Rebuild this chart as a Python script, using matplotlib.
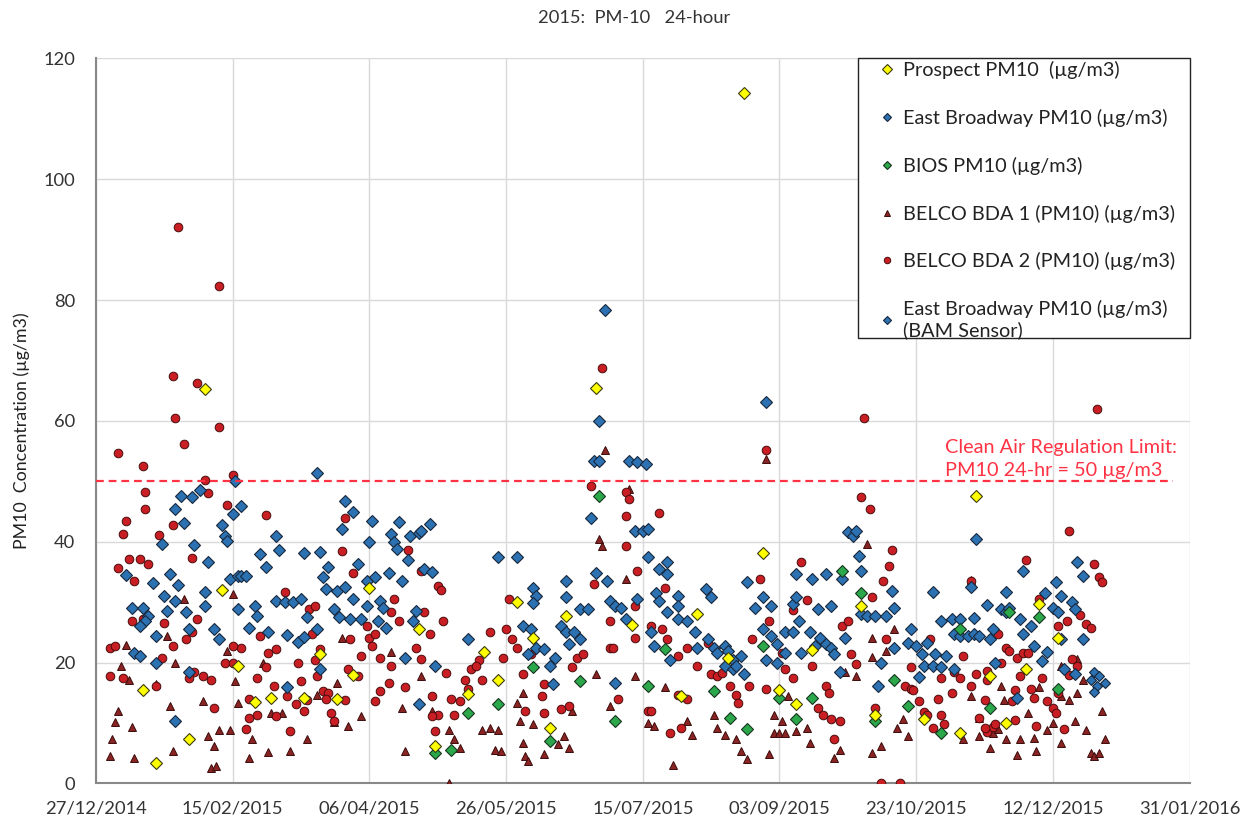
import numpy as np
import matplotlib
matplotlib.use("Agg")
import matplotlib.pyplot as plt
import matplotlib.dates as mdates
from matplotlib.patches import Rectangle

plt.rcParams['font.family'] = ['Lato', 'DejaVu Sans']

# ---------------- data (day of 2015, value in ug/m3) ----------------
title = "2015:  PM-10   24-hour"
ylabel = "PM10  Concentration (\u00b5g/m3)"
limit_value = 50
limit_text = "Clean Air Regulation Limit:\nPM10 24-hr = 50 \u00b5g/m3"
series_names = ["Prospect PM10  (\u00b5g/m3)",
                "East Broadway PM10 (\u00b5g/m3)",
                "BIOS PM10 (\u00b5g/m3)",
                "BELCO BDA 1 (PM10) (\u00b5g/m3)",
                "BELCO BDA 2 (PM10) (\u00b5g/m3)",
                "East Broadway PM10 (\u00b5g/m3)\n(BAM Sensor)"]
yticks = [0, 20, 40, 60, 80, 100, 120]

prospect = [(12, 15.4), (17, 3.4), (29, 7.4), (35, 65.2), (41, 32.0), (47, 19.5), (53, 13.5),
            (59, 14.2), (71, 14.2), (77, 21.4), (83, 13.9), (89, 17.9), (95, 32.3), (113, 25.5),
            (119, 6.2), (131, 14.8), (137, 21.7), (142, 17.2), (149, 30.0), (155, 24.1),
            (161, 9.2), (167, 27.7), (178, 65.5), (191, 26.2), (209, 14.5), (215, 28.0),
            (226, 20.8), (232, 114.2), (239, 38.1), (245, 15.4), (251, 13.2), (257, 22.1),
            (275, 29.4), (280, 11.4), (298, 10.6), (311, 8.4), (317, 47.5), (322, 17.8),
            (328, 10.0), (335, 18.9), (340, 29.7), (347, 24.1)]

bios = [(119, 5.1), (125, 5.6), (131, 11.7), (142, 13.1), (155, 19.2), (161, 7.0), (172, 17.0),
        (179, 47.6), (185, 10.3), (197, 16.1), (203, 22.2), (221, 15.3), (227, 10.9), (233, 9.0),
        (239, 22.8), (245, 14.2), (251, 10.6), (257, 14.2), (268, 35.2), (275, 31.6), (280, 10.3),
        (287, 17.2), (292, 12.8), (304, 8.4), (311, 25.5), (322, 12.5), (329, 28.3), (340, 27.5),
        (347, 15.6)]

east_broadway = [
    (6, 34.5), (16, 33.1), (22, 34.6), (25, 32.8), (8, 29.1), (12, 29.1), (14, 27.7), (13, 26.9),
    (11, 26.1), (9, 21.6), (11, 21.1), (17, 20.0), (17, 24.4), (19, 39.6), (24, 45.4), (26, 47.6),
    (30, 47.4), (33, 48.6), (27, 43.1), (31, 39.5), (36, 36.6), (20, 31.1), (24, 30.2), (21, 28.6),
    (28, 28.4), (29, 25.5), (35, 31.7), (35, 29.4), (38, 25.5), (40, 23.9), (29, 18.4), (24, 10.3),
    (41, 42.7), (42, 41.0), (43, 40.2), (45, 44.6), (48, 45.9), (46, 50.1), (44, 33.8), (47, 34.4),
    (48, 34.4), (50, 34.4), (47, 28.8), (51, 25.8), (53, 29.4), (54, 27.7), (55, 38.0), (57, 35.8),
    (61, 40.9), (62, 38.7), (58, 25.0), (61, 30.2), (64, 30.0), (67, 30.0), (70, 30.5), (65, 24.5),
    (69, 23.4), (71, 24.3), (71, 38.1), (77, 38.3), (80, 35.8), (78, 34.1), (79, 32.2), (83, 31.9),
    (86, 32.5), (72, 27.5), (76, 25.6), (82, 28.8), (84, 27.5), (88, 27.2), (92, 27.2), (89, 30.5),
    (86, 46.8), (89, 44.9), (85, 42.1), (91, 36.4), (94, 33.5), (95, 39.9), (96, 43.5), (76, 51.4),
    (94, 29.4), (65, 16.0), (77, 18.9),
    (106, 43.2), (103, 41.3), (104, 39.9), (105, 38.8), (109, 37.0), (110, 41.0), (113, 41.5),
    (114, 41.8), (117, 43.0), (115, 35.5), (118, 35.0), (97, 34.1), (102, 34.9), (107, 33.5),
    (99, 30.2), (100, 29.1), (98, 26.9), (101, 25.8), (111, 26.9), (112, 28.6), (108, 20.8),
    (119, 19.5), (113, 13.1), (131, 23.9), (142, 37.5), (149, 37.5), (155, 32.4), (156, 31.0),
    (155, 29.8), (151, 26.1), (154, 25.6), (156, 22.5), (159, 22.2), (163, 20.8), (153, 21.4),
    (161, 19.5), (162, 16.4), (167, 33.5), (167, 30.8), (165, 26.1), (167, 25.0), (170, 25.0),
    (172, 23.9), (168, 23.1), (172, 28.8), (175, 28.8), (176, 44.0), (177, 53.4), (179, 53.4),
    (179, 59.9), (181, 78.3), (178, 34.9), (182, 33.5), (183, 30.2), (185, 29.4), (187, 29.1),
    (192, 41.8), (195, 41.8), (190, 53.4), (193, 53.2), (189, 27.2), (193, 30.5), (185, 16.7),
    (240, 63.2), (196, 52.8), (197, 42.1), (197, 37.4), (201, 35.5), (204, 36.6), (204, 34.6),
    (200, 31.6), (201, 30.2), (204, 28.3), (208, 31.0), (208, 29.4), (208, 27.2), (211, 26.9),
    (214, 25.0), (218, 32.2), (220, 30.8), (198, 25.0), (199, 22.8), (205, 20.5), (215, 22.5),
    (219, 23.9), (221, 22.5), (222, 21.6), (225, 22.8), (226, 22.0), (228, 20.5), (231, 21.1),
    (225, 19.5), (228, 18.9), (229, 19.5), (232, 18.1), (233, 33.3), (236, 29.0), (239, 30.8),
    (242, 29.4), (239, 25.5), (242, 24.4), (244, 23.0), (240, 20.5), (244, 20.0), (247, 25.0),
    (250, 25.0), (252, 26.9), (250, 29.7), (251, 30.8), (251, 34.6), (257, 33.8), (262, 34.6),
    (247, 21.6), (253, 21.6), (256, 25.0), (258, 22.8), (260, 24.1), (262, 23.0), (264, 22.5),
    (265, 21.4), (259, 28.8), (264, 29.4), (267, 18.4), (268, 33.8), (269, 24.1), (270, 41.6),
    (272, 41.0), (273, 41.8), (274, 37.7), (275, 35.2), (275, 28.0), (277, 27.7), (280, 27.7),
    (284, 27.7), (287, 29.1), (286, 31.9), (293, 25.5), (292, 23.3), (295, 22.8), (297, 21.4),
    (287, 22.5), (282, 20.0), (281, 16.1), (296, 17.7),
    (317, 40.4), (334, 35.2), (354, 36.6), (356, 34.4), (315, 32.5), (301, 31.7), (328, 31.7),
    (321, 29.6), (326, 28.8), (328, 28.3), (329, 29.1), (333, 27.2), (337, 26.1), (342, 31.6),
    (346, 33.3), (348, 31.1), (345, 29.1), (347, 28.3), (352, 30.0), (353, 28.8), (304, 26.9),
    (308, 27.2), (311, 27.2), (316, 27.4), (309, 24.7), (311, 24.4), (314, 24.4), (316, 24.7),
    (318, 24.4), (322, 23.9), (323, 25.5), (334, 24.7), (338, 22.8), (343, 21.7), (348, 23.9),
    (356, 23.9), (299, 23.3), (302, 21.4), (306, 21.1), (298, 19.5), (301, 19.5), (304, 19.2),
    (309, 18.9), (324, 20.0), (341, 20.3), (349, 18.9), (353, 18.1), (332, 14.1)]

east_broadway_bam = [(360, 18.4), (362, 17.8), (364, 16.7), (359, 17.2), (361, 16.1), (360, 15.2)]

belco_bda2 = [
    (25, 92.0), (40, 82.4), (23, 67.5), (32, 66.2), (180, 68.8),
    (24, 60.5), (40, 59.0), (27, 56.1), (3, 54.7), (12, 52.5), (35, 50.2), (45, 51.0), (36, 48.0),
    (13, 48.3), (13, 45.5), (43, 46.0), (57, 44.4), (6, 43.4), (5, 41.3), (18, 41.2), (23, 42.7),
    (30, 37.3), (86, 43.9), (85, 38.4), (7, 37.1), (11, 37.1), (14, 36.3), (3, 35.6), (9, 33.5),
    (64, 31.7), (89, 34.9), (8, 26.9), (20, 26.6), (32, 27.2), (0, 22.5), (2, 22.8), (19, 20.8),
    (23, 22.8), (28, 23.9), (30, 25.0), (0, 17.8), (5, 17.5), (17, 16.1), (34, 17.8), (37, 17.2),
    (38, 12.5), (42, 20.0), (45, 20.0), (48, 22.5), (45, 22.8), (55, 24.4), (58, 21.6), (61, 22.2),
    (57, 19.2), (54, 17.5), (51, 13.9), (51, 10.9), (50, 9.0), (54, 11.4), (60, 16.1), (61, 11.2),
    (68, 13.1), (69, 20.0), (70, 17.0), (73, 28.8), (75, 29.4), (75, 20.5), (76, 17.8), (78, 15.3),
    (80, 15.0), (81, 11.7), (82, 10.3), (79, 13.9), (87, 18.9), (91, 17.8), (92, 21.1), (88, 23.9),
    (95, 24.1), (94, 26.1), (66, 8.7), (71, 12.0), (31, 18.5),
    (12, 27.2), (29, 17.4), (65, 14.4), (72, 13.8), (77, 22.2), (74, 24.7), (86, 13.8),
    (109, 38.6), (114, 35.2), (120, 32.6), (121, 32.0), (104, 30.5), (103, 28.3), (106, 26.9),
    (115, 28.3), (122, 26.9), (117, 24.7), (112, 22.5), (114, 20.6), (97, 24.7), (96, 22.8),
    (103, 19.5), (99, 20.8), (102, 16.7), (99, 15.3), (97, 13.6), (108, 15.9), (118, 14.5),
    (123, 18.3), (119, 8.7), (120, 11.4), (132, 18.9), (130, 17.2), (131, 15.6), (136, 17.2),
    (125, 13.9), (128, 13.6), (135, 20.5), (134, 19.5), (139, 25.0), (145, 25.5), (146, 30.5),
    (147, 23.9), (144, 20.8), (149, 22.5), (151, 18.1), (154, 21.4), (152, 12.0), (158, 14.5),
    (159, 11.7), (159, 16.4), (165, 12.3), (168, 12.8), (169, 19.2), (171, 20.8), (173, 21.4),
    (176, 49.3), (179, 53.4), (177, 33.0), (183, 26.9), (183, 22.5), (184, 22.5), (189, 44.3),
    (189, 39.3), (193, 35.2), (189, 48.2), (190, 47.1), (192, 29.4), (192, 24.1), (186, 13.9),
    (197, 12.0), (126, 11.4), (118, 11.2),
    (276, 60.4), (240, 55.1), (201, 44.8), (275, 47.4), (278, 45.4), (286, 38.7), (285, 36.0),
    (283, 33.5), (253, 36.7), (238, 33.8), (255, 30.4), (250, 28.7), (203, 32.4), (198, 26.1),
    (202, 25.5), (204, 23.9), (211, 22.5), (208, 21.1), (215, 19.5), (219, 23.3), (220, 18.1),
    (222, 17.8), (224, 18.3), (227, 16.1), (229, 14.7), (230, 13.4), (208, 14.7), (211, 13.9),
    (205, 8.4), (209, 9.2), (198, 12.0), (234, 16.2), (240, 15.6), (235, 23.9), (241, 26.9),
    (246, 21.6), (247, 18.9), (257, 19.5), (262, 16.1), (263, 15.0), (259, 12.5), (261, 11.4),
    (264, 10.6), (267, 10.3), (265, 7.3), (268, 26.1), (270, 26.9), (271, 21.4), (273, 19.7),
    (279, 30.8), (280, 12.5), (280, 11.4), (284, 23.9), (291, 16.1), (293, 15.6), (282, 0.0),
    (289, 0.0), (293, 19.2), (250, 17.5),
    (296, 13.6), (298, 11.9), (294, 15.5), (309, 18.5), (311, 17.4), (317, 18.2), (321, 17.2),
    (320, 13.8), (321, 8.6), (323, 9.4), (331, 15.5), (330, 13.6), (331, 10.5), (338, 14.1),
    (351, 18.0),
    (361, 62.0), (351, 41.7), (335, 37.0), (360, 36.3), (362, 34.1), (363, 33.3), (315, 33.5),
    (340, 30.5), (347, 26.1), (350, 26.9), (355, 27.8), (357, 26.4), (359, 25.8), (325, 24.7),
    (328, 22.5), (329, 21.9), (332, 20.8), (334, 21.6), (336, 21.6), (312, 21.1), (300, 23.9),
    (326, 20.0), (321, 18.6), (315, 16.1), (304, 17.5), (308, 15.0), (303, 13.9), (299, 11.4),
    (304, 11.4), (305, 9.8), (301, 9.2), (318, 10.9), (320, 9.2), (324, 9.8), (333, 17.8),
    (337, 15.6), (341, 17.5), (343, 13.6), (345, 12.5), (346, 11.7), (339, 9.5), (349, 9.0),
    (347, 15.0), (354, 19.5), (352, 20.6)]

belco_bda1 = [
    (6, 22.9), (4, 19.5), (7, 17.2), (3, 12.0), (2, 10.2), (8, 9.3), (1, 7.3), (0, 4.5), (9, 4.2),
    (17, 16.4), (22, 12.9), (21, 24.4), (24, 20.0), (27, 30.6), (23, 5.3), (34, 13.7), (36, 7.8),
    (38, 6.2), (37, 2.6), (39, 2.9), (40, 8.9), (44, 8.9), (45, 31.3), (46, 17.0), (47, 13.4),
    (52, 7.3), (51, 4.2), (58, 5.2), (63, 11.7), (66, 5.3), (72, 7.3), (76, 14.7), (82, 10.1),
    (87, 9.5), (92, 11.2), (85, 24.1), (83, 16.7), (56, 20.0), (59, 11.7), (43, 21.9),
    (108, 5.3), (114, 17.8), (118, 12.0), (107, 12.5), (124, 8.9), (124, 0.0), (126, 7.3),
    (128, 5.9), (136, 8.9), (139, 9.2), (142, 8.9), (141, 5.6), (143, 5.3), (149, 13.4),
    (150, 10.3), (151, 6.7), (152, 4.5), (153, 3.7), (155, 9.8), (159, 4.8), (164, 6.5),
    (166, 7.8), (168, 5.9), (151, 15.0), (169, 12.0), (178, 18.1), (179, 40.5), (180, 39.3),
    (181, 55.1), (189, 33.8), (190, 48.7), (192, 17.8), (183, 12.8), (103, 21.7),
    (240, 53.7), (277, 39.6), (287, 25.5), (279, 24.1), (197, 10.0), (199, 9.5), (203, 15.9),
    (206, 3.1), (211, 10.3), (213, 8.1), (221, 11.4), (222, 9.2), (225, 8.1), (231, 5.3),
    (233, 4.0), (229, 7.3), (241, 4.8), (243, 8.4), (245, 8.4), (247, 8.4), (243, 11.4),
    (246, 10.3), (251, 8.7), (255, 9.2), (256, 6.7), (265, 4.2), (267, 5.6), (269, 18.4),
    (273, 17.8), (279, 5.1), (282, 6.2), (290, 10.6), (292, 7.8), (248, 14.5),
    (279, 21.0), (284, 21.9), (288, 9.2), (318, 10.8), (318, 7.8), (327, 13.8), (332, 4.7),
    (336, 11.6), (348, 14.4), (351, 13.8), (356, 17.2),
    (315, 33.6), (348, 19.5), (354, 20.6), (354, 15.0), (315, 14.5), (326, 16.1), (340, 15.9),
    (323, 8.4), (325, 9.0), (328, 7.3), (333, 7.3), (343, 8.9), (345, 10.0), (338, 7.5),
    (339, 5.3), (348, 6.7), (353, 10.3), (357, 8.9), (359, 5.1), (360, 4.5), (362, 5.1),
    (363, 12.0), (364, 7.3), (312, 7.3), (322, 5.9)]

# ---------------- helpers ----------------
year_start = np.datetime64('2015-01-01')
def to_xy(pairs):
    d = np.array([p[0] for p in pairs], dtype=int)
    v = np.array([p[1] for p in pairs], dtype=float)
    return year_start + d.astype('timedelta64[D]'), v

fig = plt.figure(figsize=(12.49, 8.23), dpi=100)
ax = fig.add_axes([0.0769, 0.048, 0.8755, 0.8812])

styles = [
    dict(marker='D', ms=6.4, mfc='#FFFF00', mec='#3a3a10', mew=0.8, zorder=7),   # Prospect
    dict(marker='D', ms=5.8, mfc='#2C72B2', mec='#17273d', mew=0.8, zorder=5),   # East Broadway
    dict(marker='D', ms=5.9, mfc='#2BA84A', mec='#17331f', mew=0.8, zorder=6),   # BIOS
    dict(marker='^', ms=5.9, mfc='#8A2424', mec='#3a0c0c', mew=0.7, zorder=3),   # BDA1
    dict(marker='o', ms=6.2, mfc='#C81E24', mec='#4a0c0c', mew=0.7, zorder=4),   # BDA2
    dict(marker='D', ms=5.4, mfc='#2C72B2', mec='#17273d', mew=0.8, zorder=5),   # BAM
]
datasets = [prospect, east_broadway, bios, belco_bda1, belco_bda2, east_broadway_bam]
handles = []
for name, data, st in zip(series_names, datasets, styles):
    x, y = to_xy(data)
    h, = ax.plot(x, y, ls='none', label=name, **st)
    handles.append(h)

# limit line and text
ax.hlines(limit_value, np.datetime64('2014-12-27'), np.datetime64('2016-01-25'),
          colors='#FF3344', linestyles=(0, (3.5, 2.2)), linewidth=1.6, zorder=8)
ax.text(0.7764, 0.4475, limit_text, transform=ax.transAxes, color='#FF3344',
        fontsize=14.3, ha='left', va='center', linespacing=1.45, zorder=9)

# axes
x0 = np.datetime64('2014-12-27')
ax.set_xlim(x0, np.datetime64('2016-01-31'))
ax.set_xticks([x0 + np.timedelta64(50 * k, 'D') for k in range(9)])
ax.xaxis.set_major_formatter(mdates.DateFormatter('%d/%m/%Y'))
ax.set_ylim(0, 120)
ax.set_yticks(yticks)
ax.tick_params(axis='both', length=0, labelsize=13.2, colors='#333333')
ax.tick_params(axis='x', pad=12)
ax.tick_params(axis='y', pad=15)
ax.grid(True, color='#D9D9D9', linewidth=1.0)
ax.set_axisbelow(True)
for s in ['top', 'right']:
    ax.spines[s].set_visible(False)
for s in ['left', 'bottom']:
    ax.spines[s].set_color('#888888')
    ax.spines[s].set_linewidth(1.5)

fig.text(0.508, 0.978, title, ha='center', va='center', fontsize=13.2, color='#333333')
fig.text(0.0176, 0.477, ylabel, rotation=90, ha='center', va='center', fontsize=12.8,
         color='#222222')

# legend box drawn as a plain rectangle, entries placed inside it
ax.add_patch(Rectangle((0.6968, 0.6139), 0.3037, 0.3861, transform=ax.transAxes,
                       facecolor='white', edgecolor='#222222', linewidth=1.0,
                       clip_on=False, zorder=9))
leg = ax.legend(handles=handles, loc='upper left', bbox_to_anchor=(0.7142, 0.9963),
                borderaxespad=0.0, borderpad=0.0, fontsize=14.3, frameon=False,
                markerscale=0.75, handlelength=1.0, handletextpad=0.3,
                labelspacing=1.5)
leg.set_zorder(10)
for t in leg.get_texts():
    t.set_color('#222222')

fig.savefig('out.png', dpi=100)
